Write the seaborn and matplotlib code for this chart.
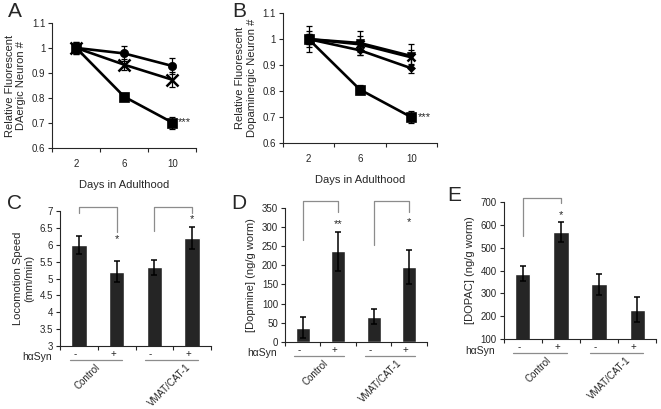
import numpy as np
import pandas as pd
import matplotlib
matplotlib.use("Agg")
import matplotlib.pyplot as plt
from matplotlib.ticker import FuncFormatter, FixedLocator
import seaborn as sns

# ---- data -----------------------------------------------------------
days = ["2", "6", "10"]

# panel A
a_circle = [1.0, 0.978, 0.928]
a_circle_err = [0.025, 0.03, 0.032]
a_cross = [1.0, 0.933, 0.873]
a_cross_err = [0.02, 0.022, 0.03]
a_square = [1.0, 0.805, 0.702]
a_square_err = [0.025, 0.015, 0.024]

# panel B
b_tri = [1.0, 0.985, 0.935]
b_tri_err = [0.05, 0.045, 0.045]
b_cross = [1.0, 0.98, 0.93]
b_cross_err = [0.03, 0.03, 0.03]
b_diamond = [1.0, 0.957, 0.888]
b_diamond_err = [0.02, 0.02, 0.018]
b_square = [1.0, 0.806, 0.70]
b_square_err = [0.02, 0.017, 0.022]

groups = ["Control", "VMAT/CAT-1"]
syn = ["-", "+", "-", "+"]

c_speed = [6.0, 5.2, 5.33, 6.2]
c_err = [0.27, 0.31, 0.22, 0.32]
d_dopamine = [37, 236, 66, 196]
d_err = [27, 51, 20, 44]
e_dopac = [387, 568, 340, 228]
e_err = [33, 45, 47, 55]

# brackets: (left bar, right bar, top, left leg end, right leg end, star y, star)
c_brackets = [(0, 1, 7.12, 6.94, 6.38, 6.18, "*"), (2, 3, 7.12, 6.41, 6.94, 6.77, "*")]
d_brackets = [(0, 1, 368, 266, 339, 308, "**"), (2, 3, 368, 253, 340, 312, "*")]
e_brackets = [(0, 1, 718, 552, 696, 645, "*")]

sns.set_style("ticks")
plt.rcParams["font.family"] = ["Liberation Sans", "DejaVu Sans"]
plt.rcParams["axes.linewidth"] = 0.8

fig = plt.figure(figsize=(6.61, 4.09), dpi=100)

fmt = FuncFormatter(lambda v, p: f"{v:g}")
gray = "#8c8c8c"


def style_axes(ax, n):
    sns.despine(ax=ax)
    ax.set_xlim(-0.5, n - 0.5)
    ax.xaxis.set_major_locator(FixedLocator(range(n)))
    ax.xaxis.set_minor_locator(FixedLocator(np.arange(-0.5, n, 1.0)))
    ax.tick_params(axis="x", which="major", length=0, labelsize=7)
    ax.tick_params(axis="x", which="minor", length=3, width=0.8, direction="out")
    ax.tick_params(axis="y", length=3, width=0.8, labelsize=7, pad=2)
    ax.yaxis.set_major_formatter(fmt)


def line_panel(ax, series, ylabel):
    x = np.arange(len(days))
    for vals, errs, mk, ms in series:
        df = pd.DataFrame({"x": x, "y": vals})
        sns.lineplot(data=df, x="x", y="y", ax=ax, color="black", lw=1.9,
                     marker=mk, markersize=ms, markeredgecolor="black",
                     markeredgewidth=1.8 if mk == "x" else 0.5, errorbar=None)
        ax.errorbar(x, vals, yerr=errs, fmt="none", ecolor="black",
                    elinewidth=0.9, capsize=2, capthick=0.9)
    style_axes(ax, len(days))
    ax.set_xticks(x)
    ax.set_xticklabels(days)
    ax.tick_params(axis="x", which="major", pad=8)
    ax.set_ylim(0.6, 1.1)
    ax.set_yticks(np.arange(0.6, 1.11, 0.1))
    ax.set_xlabel("Days in Adulthood", fontsize=8, labelpad=8)
    ax.set_ylabel(ylabel, fontsize=8, labelpad=4)
    ax.text(2.12, series[-1][0][-1], "***", fontsize=8, va="center", ha="left")


def bar_panel(ax, vals, errs, ylabel, ylim, step, brackets, ctl_x, vmat_x):
    df = pd.DataFrame({"bar": [f"b{i}" for i in range(4)], "v": vals})
    sns.barplot(data=df, x="bar", y="v", ax=ax, color="#252525", width=0.4,
                saturation=1, errorbar=None)
    ax.errorbar(range(4), vals, yerr=errs, fmt="none", ecolor="black",
                elinewidth=1.1, capsize=2.5, capthick=1.1)
    style_axes(ax, 4)
    ax.set_xticklabels([])
    ax.set_xlabel("")
    ax.set_ylim(*ylim)
    ax.set_yticks(np.arange(ylim[0], ylim[1] + step / 2, step))
    ax.set_ylabel(ylabel, fontsize=8, labelpad=4)
    tr = ax.get_xaxis_transform()
    for i, s in enumerate(syn):
        ax.text(i - 0.1, -0.06, s, transform=tr, fontsize=7, ha="center", va="center")
    ax.text(-0.72, -0.085, "h\u03b1Syn", transform=tr, fontsize=7.5, ha="right", va="center")
    for start in (0, 2):
        ax.plot([start - 0.25, start + 1.15], [-0.105, -0.105], transform=tr,
                color=gray, lw=0.9, clip_on=False)
    ax.text(ctl_x, -0.12, groups[0], transform=tr, fontsize=7, rotation=45,
            ha="right", va="top", rotation_mode="anchor")
    ax.text(vmat_x, -0.12, groups[1], transform=tr, fontsize=7, rotation=45,
            ha="right", va="top", rotation_mode="anchor")
    for l, r, top, ly, ry, sy, star in brackets:
        ax.plot([l, l, r, r], [ly, top, top, ry], color=gray, lw=0.9, clip_on=False)
        ax.text(r, sy, star, fontsize=8, ha="center", va="center")


axA = fig.add_axes([0.079, 0.638, 0.218, 0.306])
line_panel(axA, [(a_circle, a_circle_err, "o", 6),
                 (a_cross, a_cross_err, "x", 8),
                 (a_square, a_square_err, "s", 6.5)],
           "Relative Fluorescent\nDAergic Neuron #")

axB = fig.add_axes([0.428, 0.650, 0.233, 0.318])
line_panel(axB, [(b_diamond, b_diamond_err, "D", 4),
                 (b_tri, b_tri_err, "v", 6),
                 (b_cross, b_cross_err, "x", 6),
                 (b_square, b_square_err, "s", 6.5)],
           "Relative Fluorescent\nDopaminergic Neuron #")

axC = fig.add_axes([0.091, 0.154, 0.228, 0.330])
bar_panel(axC, c_speed, c_err, "Locomotion Speed\n(mm/min)", (3, 7), 0.5,
          c_brackets, 0.43, 2.83)

axD = fig.add_axes([0.431, 0.164, 0.215, 0.328])
bar_panel(axD, d_dopamine, d_err, "[Dopmine] (ng/g worm)", (0, 350), 50,
          d_brackets, 0.56, 2.65)

axE = fig.add_axes([0.762, 0.171, 0.231, 0.335])
bar_panel(axE, e_dopac, e_err, "[DOPAC] (ng/g worm)", (100, 700), 100,
          e_brackets, 0.6, 2.7)

for lbl, x, y in [("A", 0.012, 0.995), ("B", 0.352, 0.995), ("C", 0.010, 0.525),
                  ("D", 0.350, 0.525), ("E", 0.676, 0.545)]:
    fig.text(x, y, lbl, fontsize=15, ha="left", va="top")

fig.savefig("out.png", dpi=100)
